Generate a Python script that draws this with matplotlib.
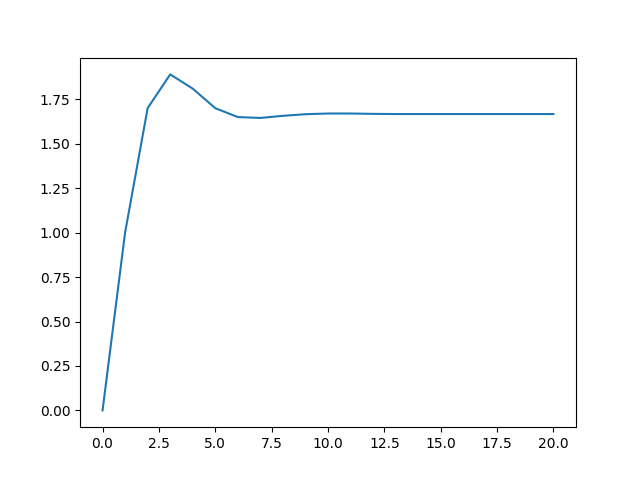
import matplotlib
matplotlib.use("Agg")
import matplotlib.pyplot as plt

# step response values
n = list(range(21))
y = [0.0, 1.0, 1.70, 1.89, 1.81, 1.70, 1.65, 1.645, 1.657, 1.666, 1.670,
     1.670, 1.668, 1.667, 1.667, 1.667, 1.667, 1.667, 1.667, 1.667, 1.667]

fig, ax = plt.subplots(figsize=(6.4, 4.8), dpi=100)
ax.plot(n, y)

fig.savefig("out.png")
